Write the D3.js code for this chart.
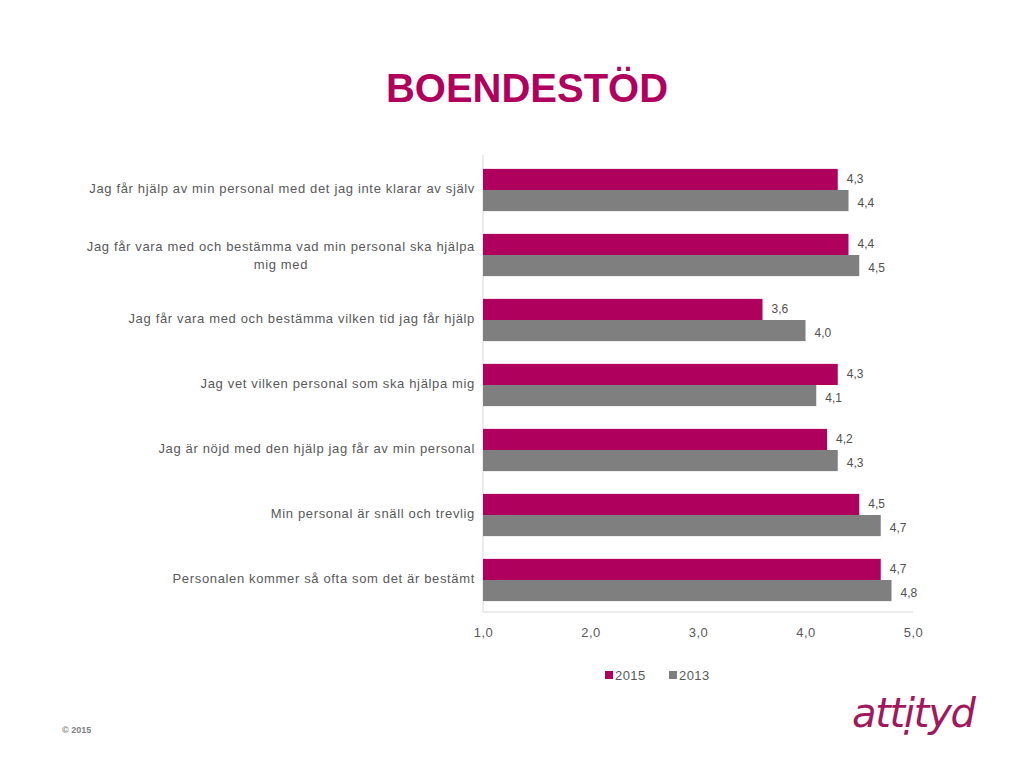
<!DOCTYPE html>
<html><head><meta charset="utf-8">
<script src="https://cdn.jsdelivr.net/npm/d3@7"></script>
<style>body{margin:0;background:#fff;}svg{display:block;font-family:"Liberation Sans",Arial,sans-serif;}</style>
</head><body>
<svg id="c" width="1023" height="768"></svg>
<script>
const categories = [
  "Jag får hjälp av min personal med det jag inte klarar av själv",
  "Jag får vara med och bestämma vad min personal ska hjälpa mig med",
  "Jag får vara med och bestämma vilken tid jag får hjälp",
  "Jag vet vilken personal som ska hjälpa mig",
  "Jag är nöjd med den hjälp jag får av min personal",
  "Min personal är snäll och trevlig",
  "Personalen kommer så ofta som det är bestämt"
];
const labelLines = [
  ["Jag får hjälp av min personal med det jag inte klarar av själv"],
  ["Jag får vara med och bestämma vad min personal ska hjälpa", "mig med"],
  ["Jag får vara med och bestämma vilken tid jag får hjälp"],
  ["Jag vet vilken personal som ska hjälpa mig"],
  ["Jag är nöjd med den hjälp jag får av min personal"],
  ["Min personal är snäll och trevlig"],
  ["Personalen kommer så ofta som det är bestämt"]
];
const series = ["2015", "2013"];
const values2015 = [4.3, 4.4, 3.6, 4.3, 4.2, 4.5, 4.7];
const values2013 = [4.4, 4.5, 4.0, 4.1, 4.3, 4.7, 4.8];
const xTicks = [1, 2, 3, 4, 5];
const colors = {"2015": "#B0005E", "2013": "#7F7F7F"};

const svg = d3.select("#c");
const fmt = v => d3.format(".1f")(v).replace(".", ",");

const x = d3.scaleLinear().domain([1, 5]).range([483, 913]);
const y = d3.scaleBand().domain(categories).range([157.5, 612.5]).paddingInner(0.35).paddingOuter(0.175);
const ySub = d3.scaleBand().domain(series).range([0, y.bandwidth()]);

// title
svg.append("text").attr("x", 527).attr("y", 102).attr("text-anchor", "middle")
  .attr("font-size", 40).attr("font-weight", "bold").attr("fill", "#B0005E").text("BOENDESTÖD");

// axes
svg.append("line").attr("x1", 483).attr("x2", 483).attr("y1", 155).attr("y2", 612).attr("stroke", "#D9D9D9");
svg.append("line").attr("x1", 483).attr("x2", 913).attr("y1", 612).attr("y2", 612).attr("stroke", "#D9D9D9");

const xAxis = svg.append("g").attr("transform", "translate(0,612)")
  .call(d3.axisBottom(x).tickValues(xTicks).tickFormat(fmt).tickSize(0).tickPadding(16));
xAxis.select(".domain").remove();
xAxis.selectAll("text").attr("font-size", 13).attr("fill", "#595959")
  .attr("letter-spacing", 0.5).attr("font-family", "Liberation Sans, Arial, sans-serif");

const data = categories.map((c, i) => ({c, i, vals: [{s: "2015", v: values2015[i]}, {s: "2013", v: values2013[i]}]}));

const g = svg.selectAll("g.cat").data(data).join("g").attr("class", "cat")
  .attr("transform", d => `translate(0,${y(d.c)})`);

g.selectAll("rect").data(d => d.vals).join("rect")
  .attr("x", x(1)).attr("y", d => ySub(d.s)).attr("height", ySub.bandwidth())
  .attr("width", d => x(d.v) - x(1)).attr("fill", d => colors[d.s]);

g.selectAll("text.val").data(d => d.vals).join("text").attr("class", "val")
  .attr("x", d => x(d.v) + 9).attr("y", d => ySub(d.s) + ySub.bandwidth() / 2 + (d.s === "2015" ? 4 : 6))
  .attr("font-size", 12).attr("fill", "#505050").text(d => fmt(d.v));

// category labels
svg.selectAll("text.cat").data(data).join("text").attr("class", "cat")
  .attr("font-size", 13).attr("fill", "#595959").attr("letter-spacing", 0.65)
  .each(function(d) {
    const lines = labelLines[d.i];
    const cy = y(d.c) + y.bandwidth() / 2;
    const t = d3.select(this);
    const lh = 18;
    const y0 = lines.length === 1 ? cy + 3 : cy - 4;
    lines.forEach((l, k) => {
      t.append("tspan").attr("y", y0 + k * lh).text(l);
    });
    const tsp = t.selectAll("tspan").nodes();
    if (lines.length > 1) {
      const w0 = tsp[0].getComputedTextLength();
      t.selectAll("tspan").attr("text-anchor", "middle").attr("x", 475 - w0 / 2);
    } else {
      t.selectAll("tspan").attr("text-anchor", "end").attr("x", 475);
    }
  });

// legend
const leg = svg.append("g");
const legX = [605, 669];
series.forEach((s, i) => {
  leg.append("rect").attr("x", legX[i]).attr("y", 671).attr("width", 8).attr("height", 8).attr("fill", colors[s]);
  leg.append("text").attr("x", legX[i] + 10).attr("y", 680).attr("font-size", 13).attr("letter-spacing", 0.4)
    .attr("fill", "#595959").text(s);
});

// footer
svg.append("text").attr("x", 62).attr("y", 733).attr("font-size", 9).attr("font-weight", "bold").attr("fill", "#808080").text("© 2015");
svg.append("text").attr("x", 852).attr("y", 727).attr("font-size", 40).attr("font-style", "italic")
  .attr("fill", "#A0195F").attr("font-family", "DejaVu Sans, sans-serif").attr("textLength", 124).text("attịtyd");
</script>
</body></html>
